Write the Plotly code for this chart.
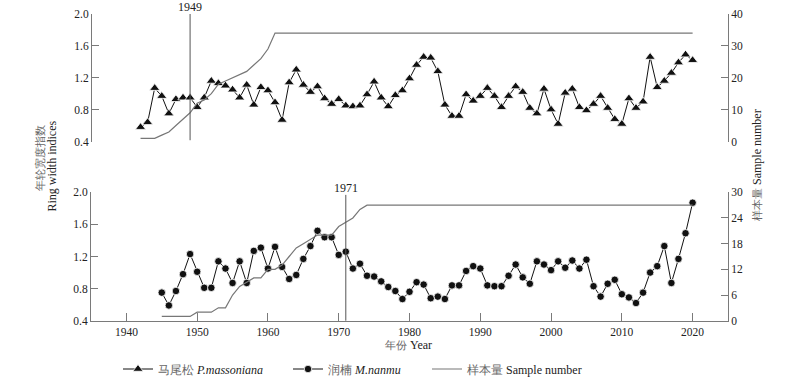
import plotly.graph_objects as go

# ---------------- data ----------------
years_pm = list(range(1942, 2021))
rwi_pm = [0.58, 0.64, 1.07, 0.97, 0.75, 0.93, 0.95, 0.95, 0.83, 0.95,
          1.16, 1.13, 1.10, 1.05, 0.95, 1.11, 0.86, 1.08, 1.04, 0.89,
          0.67, 1.14, 1.30, 1.11, 1.02, 1.09, 0.94, 0.87, 0.93, 0.85,
          0.84, 0.85, 0.99, 1.15, 0.95, 0.84, 0.98, 1.04, 1.19, 1.36,
          1.46, 1.45, 1.28, 0.86, 0.72, 0.72, 0.99, 0.91, 0.97, 1.07,
          0.97, 0.83, 0.97, 1.09, 1.02, 0.82, 0.75, 1.06, 0.80, 0.62,
          1.01, 1.06, 0.83, 0.79, 0.87, 0.97, 0.82, 0.68, 0.62, 0.94,
          0.82, 0.90, 1.46, 1.08, 1.16, 1.26, 1.39, 1.49, 1.42]
samples_pm = [1, 1, 1, 2, 3, 5, 7, 9, 12, 13, 15, 18, 19, 20, 21, 22, 24, 26, 29, 34] + [34] * 59

years_mn = list(range(1945, 2021))
rwi_mn = [0.75, 0.59, 0.77, 0.98, 1.23, 1.01, 0.81, 0.81, 1.14, 1.05,
          0.87, 1.14, 0.87, 1.27, 1.31, 1.05, 1.32, 1.07, 0.92, 0.97,
          1.17, 1.33, 1.52, 1.44, 1.44, 1.22, 1.26, 1.05, 1.11, 0.96,
          0.95, 0.89, 0.82, 0.77, 0.67, 0.76, 0.88, 0.85, 0.68, 0.70,
          0.67, 0.84, 0.84, 1.02, 1.08, 1.05, 0.84, 0.83, 0.83, 0.96,
          1.10, 0.94, 0.86, 1.14, 1.10, 1.03, 1.14, 1.06, 1.15, 1.05,
          1.16, 0.83, 0.70, 0.86, 0.91, 0.73, 0.69, 0.62, 0.75, 1.00,
          1.08, 1.33, 0.87, 1.17, 1.49, 1.87]
samples_mn = [1] * 5 + [2] * 3 + [3] * 2 + [6, 8, 9, 10, 10, 12, 12, 13, 15, 17, 18, 19,
                                           20, 20, 20, 22, 23, 24, 26] + [27] * 47

event_year_pm = 1949
event_year_mn = 1971

x_ticks = [1940, 1950, 1960, 1970, 1980, 1990, 2000, 2010, 2020]
rwi_ticks = [0.4, 0.8, 1.2, 1.6, 2.0]
samp_ticks_pm = [0, 10, 20, 30, 40]
samp_ticks_mn = [0, 6, 12, 18, 24, 30]

# ---------------- style ----------------
FONT = "Liberation Serif"
AX = "#7a7a7a"
TXT = "#222222"
CJK = "#666666"
SAMP = "#777777"
TICK_SIZE = 11.5

# plot-area geometry (pixels)
ML, MR, MT, MB = 91, 72, 12, 57
W, H = 800, 379
PW, PH = W - ML - MR, H - MT - MB


def px_x(p):
    return (p - ML) / PW


def px_y(p):
    return (H - MB - p) / PH


fig = go.Figure()

# sample number lines (behind)
fig.add_trace(go.Scatter(x=years_pm, y=samples_pm, xaxis="x", yaxis="y4", mode="lines",
                         line=dict(color=SAMP, width=1.2), showlegend=False, hoverinfo="skip"))
fig.add_trace(go.Scatter(x=years_mn, y=samples_mn, xaxis="x", yaxis="y2", mode="lines",
                         line=dict(color=SAMP, width=1.2), legend="legend3",
                         name=f"<span style='color:{CJK}'>样本量</span> Sample number"))

# ring width series
fig.add_trace(go.Scatter(x=years_pm, y=rwi_pm, xaxis="x", yaxis="y3", mode="lines+markers",
                         line=dict(color="#111111", width=1),
                         marker=dict(symbol="triangle-up", size=9, color="#111111",
                                     line=dict(color="white", width=0.8)),
                         legend="legend",
                         name=f"<span style='color:{CJK}'>马尾松</span> <i>P.massoniana</i>"))
fig.add_trace(go.Scatter(x=years_mn, y=rwi_mn, xaxis="x", yaxis="y", mode="lines+markers",
                         line=dict(color="#111111", width=1),
                         marker=dict(symbol="circle", size=7.5, color="#111111",
                                     line=dict(color="white", width=0.8)),
                         legend="legend2",
                         name=f"<span style='color:{CJK}'>润楠</span> <i>M.nanmu</i>"))

top_dom = [px_y(141.5), px_y(14)]
bot_dom = [px_y(320.7), px_y(192.3)]

common_y = dict(showgrid=False, zeroline=False, showline=True, linecolor=AX, linewidth=1,
                ticks="inside", ticklen=7, tickcolor=AX, tickwidth=1,
                tickfont=dict(family=FONT, size=TICK_SIZE, color=TXT))

leg_common = dict(orientation="h", y=px_y(369), xanchor="left", yanchor="middle",
                  bgcolor="rgba(0,0,0,0)", font=dict(family=FONT, size=12, color=TXT))

fig.update_layout(
    width=W, height=H,
    margin=dict(l=ML, r=MR, t=MT, b=MB, autoexpand=False),
    paper_bgcolor="white", plot_bgcolor="white",
    font=dict(family=FONT, size=12, color=TXT),
    xaxis=dict(domain=[0, 1], range=[1935, 2025], anchor="y", tickvals=x_ticks,
               showgrid=False, zeroline=False, showline=True, linecolor=AX, linewidth=1,
               ticks="inside", ticklen=8, tickcolor=AX,
               tickfont=dict(family=FONT, size=TICK_SIZE, color=TXT)),
    yaxis=dict(domain=bot_dom, range=[0.4, 2.0], tickvals=rwi_ticks, tickformat=".1f",
               anchor="x", **common_y),
    yaxis2=dict(range=[0, 30], tickvals=samp_ticks_mn, overlaying="y", side="right",
                anchor="x", **common_y),
    yaxis3=dict(domain=top_dom, range=[0.4, 2.0], tickvals=rwi_ticks, tickformat=".1f",
                anchor="free", position=0, **common_y),
    yaxis4=dict(range=[0, 40], tickvals=samp_ticks_pm, overlaying="y3", side="right",
                anchor="free", position=1, **common_y),
    legend=dict(x=px_x(118), **leg_common),
    legend2=dict(x=px_x(288), **leg_common),
    legend3=dict(x=px_x(427), **leg_common),
    showlegend=True,
)

# event lines
fig.add_shape(type="line", xref="x", yref="y3 domain", x0=event_year_pm, x1=event_year_pm,
              y0=0.01, y1=1.0, line=dict(color="#555555", width=1))
fig.add_shape(type="line", xref="x", yref="y domain", x0=event_year_mn, x1=event_year_mn,
              y0=0, y1=0.98, line=dict(color="#555555", width=1))
fig.add_annotation(x=event_year_pm, xref="x", yref="y3 domain", y=1.0, yanchor="bottom",
                   text=str(event_year_pm), showarrow=False, yshift=-2,
                   font=dict(family=FONT, size=12, color=TXT))
fig.add_annotation(x=event_year_mn, xref="x", yref="y domain", y=0.98, yanchor="bottom",
                   text=str(event_year_mn), showarrow=False, yshift=-2,
                   font=dict(family=FONT, size=12, color=TXT))

# axis titles
fig.add_annotation(xref="paper", yref="paper", x=px_x(39.5), y=px_y(158),
                   text="年轮宽度指数", textangle=-90, showarrow=False,
                   xanchor="center", yanchor="middle",
                   font=dict(family=FONT, size=11, color=CJK))
fig.add_annotation(xref="paper", yref="paper", x=px_x(51.5), y=px_y(166),
                   text="Ring width indices", textangle=-90, showarrow=False,
                   xanchor="center", yanchor="middle",
                   font=dict(family=FONT, size=12, color=TXT))
fig.add_annotation(xref="paper", yref="paper", x=px_x(757), y=px_y(165),
                   text=f"<span style='color:{CJK};font-size:11px'>样本量</span> Sample number",
                   textangle=-90, showarrow=False, xanchor="center", yanchor="middle",
                   font=dict(family=FONT, size=12, color=TXT))
fig.add_annotation(xref="paper", yref="paper", x=px_x(408), y=px_y(344.5),
                   text=f"<span style='color:{CJK};font-size:11px'>年份</span> Year",
                   showarrow=False, xanchor="center", yanchor="middle",
                   font=dict(family=FONT, size=12, color=TXT))

fig.write_html("out.html", config={"displayModeBar": False},
               post_script="document.body.style.margin='0px';")
